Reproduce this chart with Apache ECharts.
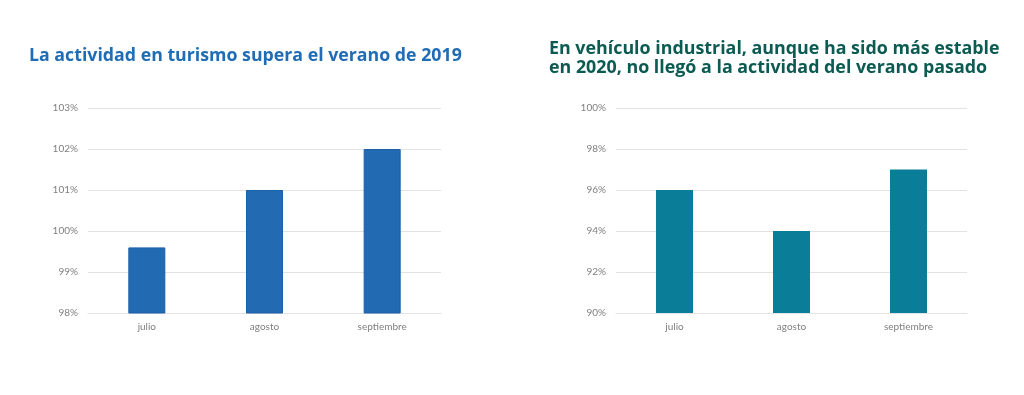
<!DOCTYPE html>
<html><head><meta charset="utf-8">
<script src="https://cdn.jsdelivr.net/npm/echarts@6/dist/echarts.min.js"></script>
<style>html,body{margin:0;padding:0;background:#fff}#c{width:1024px;height:395px}</style>
</head><body><div id="c"></div>
<script>
const categories = ['julio', 'agosto', 'septiembre'];
const turismoValues = [99.6, 101, 102];
const industrialValues = [96, 94, 97];
const turismoTitle = 'La actividad en turismo supera el verano de 2019';
const industrialTitle = 'En vehículo industrial, aunque ha sido más estable\nen 2020, no llegó a la actividad del verano pasado';

const chart = echarts.init(document.getElementById('c'), null, {renderer: 'canvas'});
const axisLabel = {color: '#808080', fontSize: 10, fontFamily: 'Lato', margin: 10, formatter: '{value}%'};
const xLabel = {color: '#808080', fontSize: 10, fontFamily: 'Lato', margin: 9};
const split = {show: true, lineStyle: {color: '#e2e2e2', width: 1}};
chart.setOption({
  animation: false,
  title: [
    {text: turismoTitle, left: 24, top: 41, textStyle: {color: '#1f6db5', fontSize: 17.75, fontWeight: 'bold', fontFamily: 'Open Sans', lineHeight: 20}},
    {text: industrialTitle, left: 544, top: 34, textStyle: {color: '#0b5b52', fontSize: 17.85, fontWeight: 'bold', fontFamily: 'Open Sans', lineHeight: 19}}
  ],
  grid: [
    {left: 88, right: 583, top: 108, bottom: 82},
    {left: 616, right: 57, top: 108, bottom: 82}
  ],
  xAxis: [
    {type: 'category', gridIndex: 0, data: categories, axisLine: {lineStyle: {color: '#e2e2e2'}}, axisTick: {show: false}, axisLabel: xLabel},
    {type: 'category', gridIndex: 1, data: categories, axisLine: {lineStyle: {color: '#e2e2e2'}}, axisTick: {show: false}, axisLabel: xLabel}
  ],
  yAxis: [
    {type: 'value', gridIndex: 0, min: 98, max: 103, interval: 1, axisLine: {show: false}, axisTick: {show: false}, axisLabel: axisLabel, splitLine: split},
    {type: 'value', gridIndex: 1, min: 90, max: 100, interval: 2, axisLine: {show: false}, axisTick: {show: false}, axisLabel: axisLabel, splitLine: split}
  ],
  series: [
    {type: 'bar', xAxisIndex: 0, yAxisIndex: 0, data: turismoValues, barWidth: 37, itemStyle: {color: '#226ab2', borderColor: '#1c5fa6', borderWidth: 1}},
    {type: 'bar', xAxisIndex: 1, yAxisIndex: 1, data: industrialValues, barWidth: 37, itemStyle: {color: '#0a7d98'}}
  ]
});
</script></body></html>
